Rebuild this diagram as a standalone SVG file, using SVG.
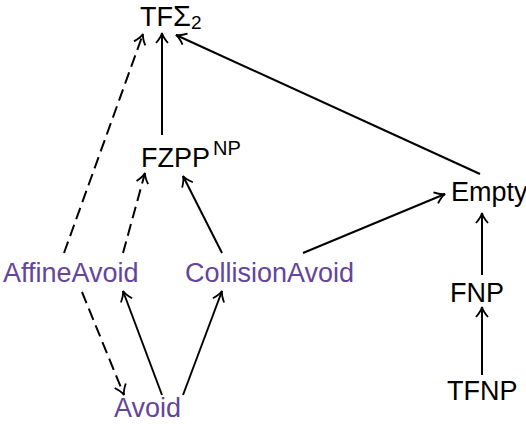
<svg xmlns="http://www.w3.org/2000/svg" width="526" height="424" viewBox="0 0 526 424">
<style>
text{font-family:"Liberation Sans",Arial,sans-serif;font-size:27px;fill:#000}
.p{fill:#65449c}
.e{fill:none;stroke:#000;stroke-width:2}
.d{stroke-dasharray:12,6}
</style>
<defs>
<marker id="a" markerUnits="userSpaceOnUse" markerWidth="24" markerHeight="24" viewBox="-12 -12 24 24" refX="0" refY="0" orient="auto">
<path d="M-10,-6 C-6,-2.5 -2,-0.5 0,0 C-2,0.5 -6,2.5 -10,6" fill="none" stroke="#000" stroke-width="1.8"/>
</marker>
</defs>
<g id="edges">
<path class="e" d="M162,135 L162,33" marker-end="url(#a)"/>
<path class="e d" d="M64,253 L143,34" marker-end="url(#a)"/>
<path class="e d" d="M123,253 L145,173" marker-end="url(#a)"/>
<path class="e d" d="M82,292 L124,395" marker-end="url(#a)"/>
<path class="e" d="M222,253 L183,176" marker-end="url(#a)"/>
<path class="e" d="M303,253 L445,194" marker-end="url(#a)"/>
<path class="e" d="M480,174 L176,35" marker-end="url(#a)"/>
<path class="e" d="M482,275 L482,213" marker-end="url(#a)"/>
<path class="e" d="M482,375 L482,307" marker-end="url(#a)"/>
<path class="e" d="M162,395 L123,291" marker-end="url(#a)"/>
<path class="e" d="M183,395 L222,291" marker-end="url(#a)"/>
</g>
<g id="TFS2"><text x="140" y="26">TF<tspan font-size="29">Σ</tspan><tspan font-size="19" dy="3">2</tspan></text></g>
<g id="FZPP"><text x="141" y="167">FZPP<tspan font-size="20" dx="3" dy="-12">NP</tspan></text></g>
<g id="Empty"><text x="451" y="201">Empty</text></g>
<g id="AffineAvoid"><text class="p" x="3" y="282">AffineAvoid</text></g>
<g id="CollisionAvoid"><text class="p" x="185" y="282">CollisionAvoid</text></g>
<g id="FNP"><text x="450" y="302">FNP</text></g>
<g id="TFNP"><text x="447" y="400">TFNP</text></g>
<g id="Avoid"><text class="p" x="114" y="417">Avoid</text></g>
</svg>
